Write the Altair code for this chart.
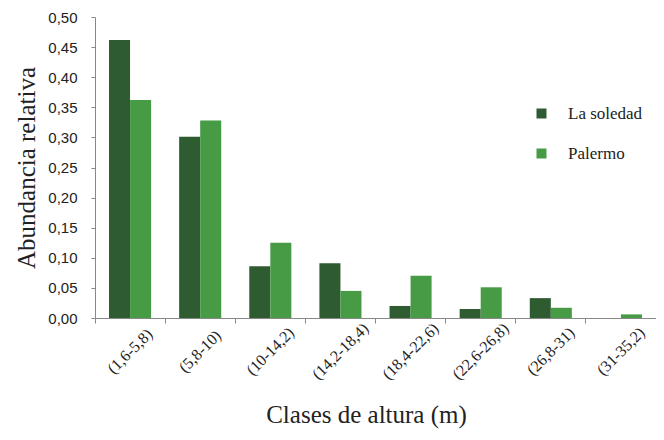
import altair as alt
import pandas as pd

categorias = ["(1,6-5,8)", "(5,8-10)", "(10-14,2)", "(14,2-18,4)",
              "(18,4-22,6)", "(22,6-26,8)", "(26,8-31)", "(31-35,2)"]
series = ["La soledad", "Palermo"]
la_soledad = [0.462, 0.301, 0.086, 0.091, 0.020, 0.015, 0.033, 0.0]
palermo = [0.362, 0.328, 0.125, 0.045, 0.070, 0.051, 0.017, 0.006]
colores = ["#2f5b30", "#479b45"]

rows = []
for c, a, b in zip(categorias, la_soledad, palermo):
    rows.append({"clase": c, "serie": series[0], "valor": a})
    rows.append({"clase": c, "serie": series[1], "valor": b})
df = pd.DataFrame(rows)

serif = "Liberation Serif, serif"
sans = "Liberation Sans"

xscale = alt.Scale(paddingInner=0, paddingOuter=0)
yscale = alt.Scale(domain=[0, 0.5])

bars = alt.Chart(df).mark_bar().encode(
    x=alt.X("clase:N", sort=categorias, scale=xscale,
            axis=alt.Axis(title="Clases de altura (m)", labelAngle=-45, orient="bottom",
                          labelAlign="center", labelBaseline="middle",
                          labelPadding=33, ticks=False,
                          labelFont=serif, labelFontSize=16, labelColor="#222",
                          titleFont=serif, titleFontSize=25, titleFontWeight="normal",
                          titleColor="#222", titlePadding=20, titleX=271,
                          domainColor="#888", grid=False)),
    xOffset=alt.XOffset("serie:N", sort=series,
                        scale=alt.Scale(paddingInner=0, paddingOuter=0.667)),
    y=alt.Y("valor:Q", scale=yscale,
            axis=alt.Axis(title="Abundancia relativa", values=[i * 0.05 for i in range(11)],
                          labelExpr="replace(format(datum.value, '.2f'), '.', ',')",
                          labelFont=sans, labelFontSize=15, labelColor="#222",
                          labelPadding=14,
                          titleFont=serif, titleFontSize=25, titleFontWeight="normal",
                          titleColor="#222", titlePadding=8,
                          domainColor="#888", tickColor="#888", tickSize=4,
                          grid=False)),
    color=alt.Color("serie:N", sort=series,
                    scale=alt.Scale(domain=series, range=colores),
                    legend=alt.Legend(title=None, orient="none", legendX=438, legendY=88,
                                      symbolType="square", symbolSize=100,
                                      labelFont=serif, labelFontSize=17, labelColor="#222",
                                      labelOffset=18, rowPadding=22)),
)

marcas = alt.Chart(df).mark_bar(opacity=0).encode(
    x=alt.X("clase:N", sort=categorias, scale=xscale,
            axis=alt.Axis(title=None, labels=False, domain=False, bandPosition=0,
                          orient="bottom", ticks=True, tickColor="#888",
                          tickSize=5, grid=False)),
)

chart = alt.layer(bars, marcas).resolve_axis(x="independent").properties(
    width=561, height=301,
    autosize=alt.AutoSizeParams(type="none"),
    padding={"left": 87, "top": 9, "right": 0, "bottom": 120},
).configure_view(stroke=None).configure_legend(labelFont=serif)

chart.save("out.html", embed_options={"renderer": "svg", "actions": False})
